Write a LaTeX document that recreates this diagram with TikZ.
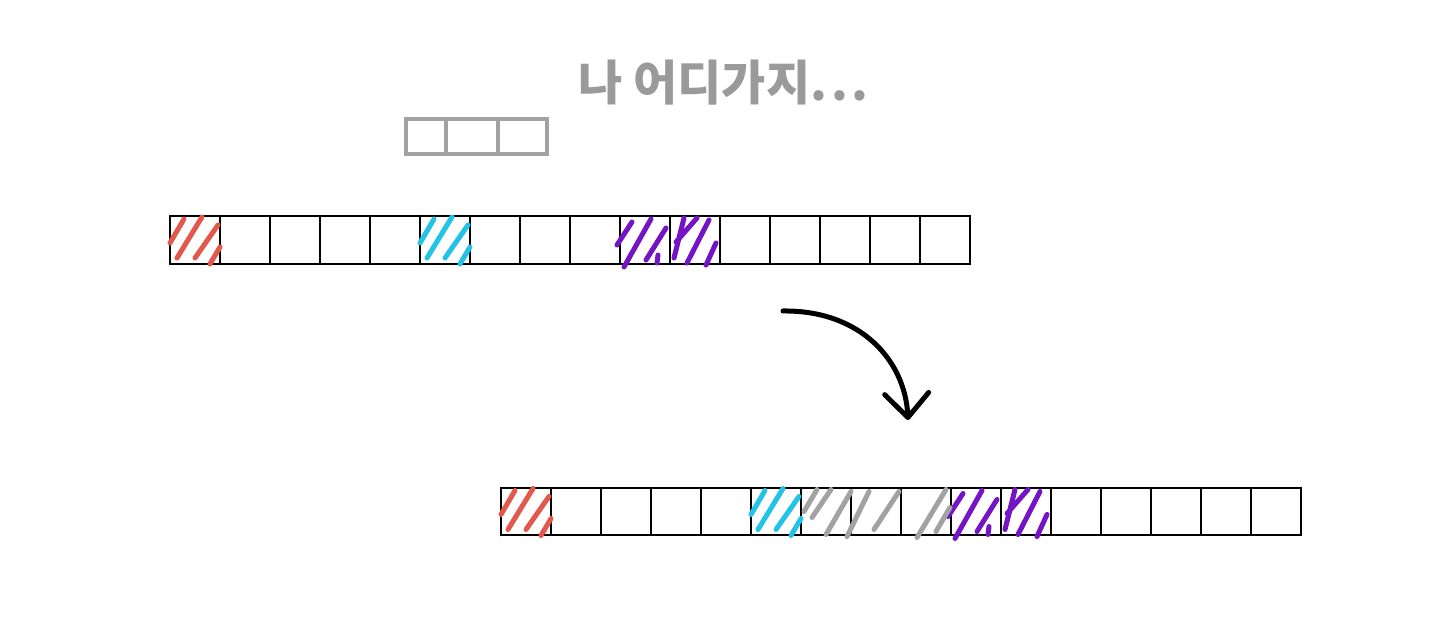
\documentclass[tikz,border=0pt]{standalone}
\usepackage{fontspec}
\newfontfamily\kor{Noto Sans CJK KR}
\usetikzlibrary{arrows.meta,positioning,calc}
\definecolor{cRed}{HTML}{E2584C}
\definecolor{cCyan}{HTML}{22C3E6}
\definecolor{cPurple}{HTML}{7414C4}
\definecolor{cGray}{HTML}{A2A2A2}
\definecolor{cText}{HTML}{9A9A9A}
\tikzset{
  cell/.style  = {draw=black, line width=1pt, minimum width=25pt,
                  minimum height=24pt, inner sep=0pt, outer sep=0pt},
  free/.style  = {draw=cGray, line width=2pt, minimum height=17.5pt,
                  inner sep=0pt, outer sep=0pt},
  hatch/.style = {line width=2.5pt, line cap=round},
  moveflow/.style = {-{Straight Barb[length=12pt, width=22pt, round]},
                     line width=2.5pt, line cap=round},
}
% hand-drawn hatching, drawn round the centre of a cell
\newcommand{\hatchA}[2]{%
  \begin{scope}[shift={(#1.center)}]
    \draw[hatch,#2] (-25,3) -- (-11,-21) (-18,18) -- (7,-23)
                    (0,18) -- (23,-15) (15,24) -- (25,7);
  \end{scope}}
\newcommand{\hatchB}[2]{%
  \begin{scope}[shift={(#1.center)}]
    \draw[hatch,#2] (-28,5) -- (-13,-18) (-21,27) -- (6,-21)
                    (1,20) -- (21,-12) (12,23) -- (13,15);
  \end{scope}}
\newcommand{\hatchC}[2]{%
  \begin{scope}[shift={(#1.center)}]
    \draw[hatch,#2] (-21,18) -- (-11,-22) (-19,2) -- (2,-22)
                    (-8,23) -- (14,-20) (11,25) -- (21,3);
  \end{scope}}

\begin{document}
\begin{tikzpicture}[x=0.5pt, y=-0.5pt]
  \useasboundingbox (0,0) rectangle (1440,635);
  % thought
  \node[text=cText, font=\kor\bfseries\fontsize{24}{28}\selectfont,
        anchor=west, inner sep=0pt] (msg) at (578,83)
        {나 어디가지.\hspace{2pt}.\hspace{2pt}.};
  % the block that looks for room
  \node[free, minimum width=20pt] (free0) at (426,136.5) {};
  \node[free, minimum width=26pt, right=0pt of free0] (free1) {};
  \node[free, minimum width=24.5pt, right=0pt of free1] (free2) {};
  % memory before
  \node[cell] (top0) at (195,240) {};
  \foreach \i [remember=\i as \j (initially 0)] in {1,...,15}
    \node[cell, right=0pt of top\j] (top\i) {};
  \hatchA{top0}{cRed}
  \hatchA{top5}{cCyan}
  \hatchB{top9}{cPurple}
  \hatchC{top10}{cPurple}
  % memory after
  \node[cell, minimum height=23.5pt] (bot0) at (526,511.5) {};
  \foreach \i [remember=\i as \j (initially 0)] in {1,...,15}
    \node[cell, minimum height=23.5pt, right=0pt of bot\j] (bot\i) {};
  \hatchA{bot0}{cRed}
  \hatchA{bot5}{cCyan}
  \hatchB{bot9}{cPurple}
  \hatchC{bot10}{cPurple}
  \begin{scope}[shift={(bot7.center)}]
    \draw[hatch,cGray] (-72,0) -- (-59,-22) (-64,6) -- (-45,-22)
      (-50,23) -- (-25,-20) (-29,25) -- (-7,-20) (-2,18) -- (23,-20)
      (41,26) -- (70,-22) (60,20) -- (74,-4);
  \end{scope}
  % move
  \coordinate (from) at (783,311);
  \coordinate (to) at (908,420);
  \draw[moveflow] (from) .. controls (860,310) and (905,360) .. (to);
\end{tikzpicture}
\end{document}
